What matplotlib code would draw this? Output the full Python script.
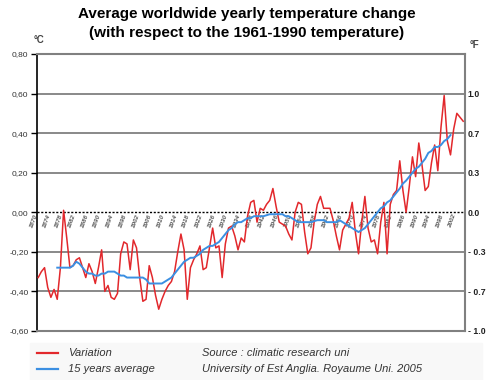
import numpy as np
import matplotlib
matplotlib.use("Agg")
import matplotlib.pyplot as plt
from matplotlib.lines import Line2D
from matplotlib.patches import Rectangle

# yearly variation (deg C, relative to 1961-1990)
years = list(range(1870, 2005))
variation = [
    -0.33, -0.30, -0.28, -0.38, -0.43, -0.39, -0.44, -0.28, 0.01, -0.13,   # 1870s
    -0.28, -0.27, -0.24, -0.23, -0.28, -0.33, -0.26, -0.30, -0.36, -0.28,  # 1880s
    -0.19, -0.40, -0.37, -0.43, -0.44, -0.41, -0.21, -0.15, -0.16, -0.29,  # 1890s
    -0.14, -0.18, -0.33, -0.45, -0.44, -0.27, -0.33, -0.42, -0.49, -0.44,  # 1900s
    -0.40, -0.37, -0.35, -0.30, -0.20, -0.11, -0.19, -0.44, -0.28, -0.24,  # 1910s
    -0.21, -0.17, -0.29, -0.28, -0.18, -0.08, -0.18, -0.17, -0.33, -0.16,  # 1920s
    -0.08, -0.07, -0.12, -0.19, -0.13, -0.15, -0.02, 0.05, 0.06, -0.05,    # 1930s
    0.02, 0.01, 0.04, 0.06, 0.12, 0.03, -0.05, -0.06, -0.07, -0.11,        # 1940s
    -0.14, 0.00, 0.05, 0.04, -0.10, -0.21, -0.18, -0.05, 0.04, 0.08,       # 1950s
    0.02, 0.02, 0.02, -0.04, -0.12, -0.19, -0.09, -0.06, -0.03, 0.05,      # 1960s
    -0.10, -0.21, -0.05, 0.08, -0.08, -0.15, -0.14, -0.21, -0.05, 0.05,    # 1970s
    -0.21, 0.04, 0.09, 0.11, 0.26, 0.11, 0.00, 0.13, 0.28, 0.18,           # 1980s
    0.35, 0.24, 0.11, 0.13, 0.25, 0.34, 0.21, 0.43, 0.59, 0.36,            # 1990s
    0.29, 0.42, 0.50, 0.48, 0.46,                                          # 2000s
]

# 15 years average
avg_years = list(range(1876, 2001))
avg15 = [
    -0.28, -0.28, -0.28, -0.28,                                            # 1876-1879
    -0.28, -0.27, -0.25, -0.26, -0.28, -0.30, -0.31, -0.31, -0.32, -0.32,  # 1880s
    -0.31, -0.31, -0.30, -0.30, -0.30, -0.31, -0.32, -0.32, -0.33, -0.33,  # 1890s
    -0.33, -0.33, -0.33, -0.33, -0.34, -0.36, -0.36, -0.36, -0.36, -0.36,  # 1900s
    -0.35, -0.34, -0.33, -0.31, -0.29, -0.27, -0.25, -0.24, -0.23, -0.23,  # 1910s
    -0.22, -0.21, -0.19, -0.18, -0.17, -0.17, -0.16, -0.15, -0.13, -0.11,  # 1920s
    -0.09, -0.08, -0.06, -0.05, -0.05, -0.04, -0.03, -0.03, -0.02, -0.02,  # 1930s
    -0.02, -0.02, -0.015, -0.01, -0.01, -0.01, -0.01, -0.01, -0.02, -0.02, # 1940s
    -0.03, -0.04, -0.05, -0.05, -0.05, -0.05, -0.05, -0.045, -0.04, -0.04, # 1950s
    -0.04, -0.05, -0.05, -0.05, -0.05, -0.04, -0.05, -0.06, -0.07, -0.08,  # 1960s
    -0.09, -0.10, -0.09, -0.08, -0.06, -0.04, -0.02, 0.00, 0.02, 0.03,     # 1970s
    0.05, 0.06, 0.08, 0.10, 0.12, 0.145, 0.16, 0.18, 0.20, 0.22,           # 1980s
    0.23, 0.25, 0.27, 0.30, 0.31, 0.33, 0.33, 0.34, 0.36, 0.37,            # 1990s
    0.39,                                                                  # 2000
]

celsius_ticks = [-0.6, -0.4, -0.2, 0.0, 0.2, 0.4, 0.6, 0.8]
celsius_labels = ["-0,60", "-0,40", "-0,20", "0,00", "0,20", "0,40", "0,60", "0,80"]
fahr_ticks = [-0.6, -0.4, -0.2, 0.0, 0.2, 0.4, 0.6]
fahr_labels = ["- 1.0", "- 0.7", "- 0.3", "0.0", "0.3", "0.7", "1.0"]
year_labels = list(range(1870, 2003, 4))

RED = "#e2282c"
BLUE = "#3b8fe2"
GREY = "#808080"

fig = plt.figure(figsize=(4.86, 3.8), dpi=100)
plt.rcParams["font.family"] = ["Liberation Sans", "DejaVu Sans"]

ax = fig.add_axes([0.076, 0.129, 0.881, 0.729])
ax.set_xlim(1869.6, 2004.6)
ax.set_ylim(-0.6, 0.8)

for v in [-0.4, -0.2, 0.2, 0.4, 0.6]:
    ax.axhline(v, color=GREY, lw=1.3, zorder=1)
ax.axhline(0, color="black", lw=1.0, ls=(0, (1.5, 1.2)), zorder=1)

ax.plot(years, variation, color=RED, lw=1.1, zorder=3)
ax.plot(avg_years, avg15, color=BLUE, lw=1.4, zorder=4)

for s in ["top", "right", "bottom"]:
    ax.spines[s].set_color(GREY)
    ax.spines[s].set_linewidth(1.5)
ax.spines["left"].set_color("black")
ax.spines["left"].set_linewidth(1.2)

ax.set_xticks([])
ax.set_yticks(celsius_ticks)
ax.set_yticklabels(celsius_labels, fontsize=6, color="#333333")
ax.tick_params(axis="y", direction="out", length=4, width=1, pad=2)

# year labels sit just under the zero line
for yr in year_labels:
    ax.text(yr - 0.6, -0.012, str(yr), rotation=70, rotation_mode="anchor",
            ha="right", va="center", fontsize=4.5, color="#555555",
            style="italic", fontweight="bold", zorder=2)

ax2 = ax.twinx()
ax2.set_ylim(-0.6, 0.8)
ax2.set_yticks(fahr_ticks)
ax2.set_yticklabels(fahr_labels, fontsize=6.3, fontweight="bold", color="#222222")
ax2.tick_params(axis="y", length=0, pad=2)
for s in ["top", "right", "bottom", "left"]:
    ax2.spines[s].set_visible(False)

fig.text(0.508, 0.962, "Average worldwide yearly temperature change",
         ha="center", va="center", fontsize=11, fontweight="bold")
fig.text(0.508, 0.912, "(with respect to the 1961-1990 temperature)",
         ha="center", va="center", fontsize=11, fontweight="bold")
fig.text(34 / 486, 1 - 40 / 380, "°C", fontsize=7, fontweight="bold",
         color="#444444", va="center")
fig.text(470 / 486, 1 - 45 / 380, "°F", fontsize=7, fontweight="bold",
         color="#444444", va="center")

# legend / source block
fig.patches.append(Rectangle((30 / 486, 1 - 380 / 380), 452 / 486, 37 / 380,
                             transform=fig.transFigure, color="#f8f8f8", zorder=0))
fig.add_artist(Line2D([37 / 486, 58 / 486], [1 - 353 / 380] * 2, color=RED, lw=1.6))
fig.add_artist(Line2D([37 / 486, 58 / 486], [1 - 369 / 380] * 2, color=BLUE, lw=1.6))
fig.text(68 / 486, 1 - 353 / 380, "Variation", style="italic", fontsize=8,
         color="#333333", va="center")
fig.text(68 / 486, 1 - 369 / 380, "15 years average", style="italic", fontsize=8,
         color="#333333", va="center")
fig.text(202 / 486, 1 - 353 / 380, "Source : climatic research uni", style="italic",
         fontsize=8, color="#333333", va="center")
fig.text(202 / 486, 1 - 369 / 380, "University of Est Anglia. Royaume Uni. 2005",
         style="italic", fontsize=8, color="#333333", va="center")

fig.savefig("out.png", dpi=100)
